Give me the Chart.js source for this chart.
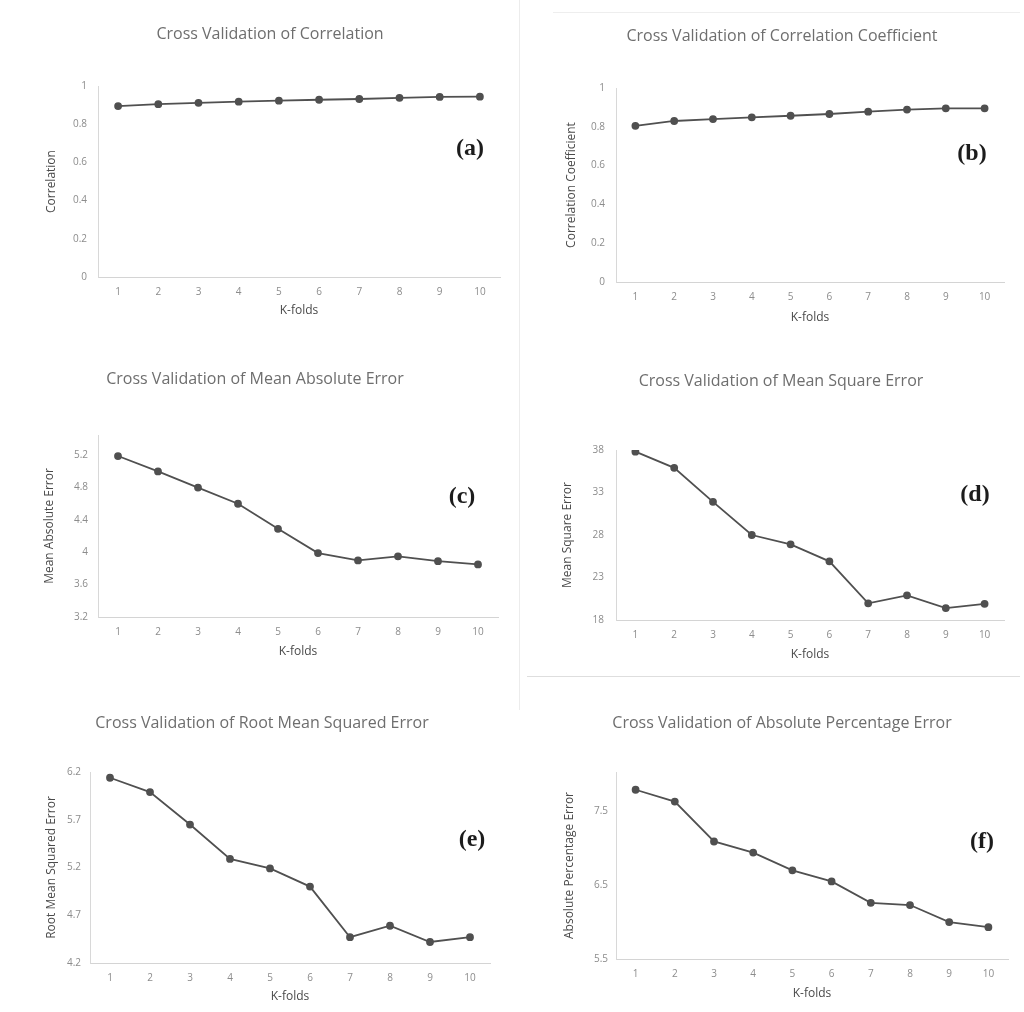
<!DOCTYPE html>
<html>
<head>
<meta charset="utf-8">
<script src="https://cdn.jsdelivr.net/npm/chart.js@4"></script>
<style>
  html, body { margin: 0; padding: 0; background: #ffffff; }
  body { width: 1024px; height: 1012px; position: relative; overflow: hidden; font-family: "Open Sans", sans-serif; }
  .panel { position: absolute; }
  .title { position: absolute; font-family: "Open Sans", sans-serif; font-size: 16px; color: #6e6e6e; white-space: nowrap; transform: translate(-50%, -50%); }
  .letter { position: absolute; font-family: "Liberation Serif", serif; font-weight: bold; font-size: 24px; color: #1c1c1c; white-space: nowrap; transform: translate(-50%, -50%); }
  .rule { position: absolute; background: #e6e6e6; }
</style>
</head>
<body>
<script>
// ---------------- data ----------------
const kFolds = ['1', '2', '3', '4', '5', '6', '7', '8', '9', '10'];

const correlation = [0.895, 0.905, 0.912, 0.918, 0.923, 0.928, 0.932, 0.938, 0.943, 0.944];
const correlationCoefficient = [0.805, 0.830, 0.840, 0.849, 0.857, 0.866, 0.878, 0.889, 0.895, 0.895];
const meanAbsoluteError = [5.19, 5.00, 4.80, 4.60, 4.29, 3.99, 3.90, 3.95, 3.89, 3.85];
const meanSquareError = [37.8, 35.9, 31.9, 28.0, 26.9, 24.9, 19.96, 20.9, 19.4, 19.9];
const rootMeanSquaredError = [6.14, 5.99, 5.65, 5.29, 5.19, 5.00, 4.47, 4.59, 4.42, 4.47];
const absolutePercentageError = [7.79, 7.63, 7.09, 6.94, 6.70, 6.55, 6.26, 6.23, 6.00, 5.93];

const correlationTicks = [0, 0.2, 0.4, 0.6, 0.8, 1];
const maeTicks = [3.2, 3.6, 4, 4.4, 4.8, 5.2];
const mseTicks = [18, 23, 28, 33, 38];
const rmseTicks = [4.2, 4.7, 5.2, 5.7, 6.2];
const apeTicks = [5.5, 6.5, 7.5];

const chartTitles = [
  'Cross Validation of Correlation',
  'Cross Validation of Correlation Coefficient',
  'Cross Validation of Mean Absolute Error',
  'Cross Validation of Mean Square Error',
  'Cross Validation of Root Mean Squared Error',
  'Cross Validation of Absolute Percentage Error'
];
const yAxisTitles = ['Correlation', 'Correlation Coefficient', 'Mean Absolute Error', 'Mean Square Error', 'Root Mean Squared Error', 'Absolute Percentage Error'];
const xAxisTitle = 'K-folds';
const panelLetters = ['(a)', '(b)', '(c)', '(d)', '(e)', '(f)'];

// ---------------- layout (styling only) ----------------
const seriesList = [correlation, correlationCoefficient, meanAbsoluteError, meanSquareError, rootMeanSquaredError, absolutePercentageError];
const tickList = [correlationTicks, correlationTicks, maeTicks, mseTicks, rmseTicks, apeTicks];
const ranges = [[0, 1], [0, 1], [3.2, 5.45], [18, 38], [4.2, 6.2], [5.5, 8.03]];

// canvas rect, plot rect, title/letter/axis-title placement
const layouts = [
  { c: [0, 0, 515, 340],   p: [98, 86, 500, 277],   t: [270, 33],  l: [470, 147], yt: 52,  xt: 311, tp: 11 },
  { c: [515, 0, 509, 340], p: [616, 88, 1004, 282], t: [782, 35],  l: [972, 152], yt: 572, xt: 318, tp: 11 },
  { c: [0, 340, 515, 340], p: [98, 435, 498, 617],  t: [255, 378], l: [462, 495], yt: 50,  xt: 652, tp: 10 },
  { c: [515, 340, 509, 340], p: [616, 450, 1004, 620], t: [781, 380], l: [975, 493], yt: 568, xt: 655, tp: 12 },
  { c: [0, 680, 515, 332], p: [90, 772, 490, 963],  t: [262, 722], l: [472, 838], yt: 52,  xt: 997, tp: 9 },
  { c: [515, 680, 509, 332], p: [616, 772, 1008, 959], t: [782, 722], l: [982, 840], yt: 570, xt: 994, tp: 8 }
];

const Y_W = 70;   // fixed width of y-axis box
const X_H = 44;   // fixed height of x-axis box
const AXIS_FONT = 12;
const TICK_FONT = 10;

function addDiv(cls, text, x, y) {
  const d = document.createElement('div');
  d.className = cls;
  d.textContent = text;
  d.style.left = x + 'px';
  d.style.top = y + 'px';
  document.body.appendChild(d);
  return d;
}
function addRule(x, y, w, h, color) {
  const d = document.createElement('div');
  d.className = 'rule';
  d.style.left = x + 'px'; d.style.top = y + 'px';
  d.style.width = w + 'px'; d.style.height = h + 'px';
  if (color) d.style.background = color;
  document.body.appendChild(d);
}

// faint panel frames
addRule(519, 0, 1, 710, '#ececec');
addRule(553, 12, 467, 1, '#eeeeee');
addRule(527, 676, 493, 1, '#dedede');

layouts.forEach((L, i) => {
  const [cx, cy, cw, ch] = L.c;
  const [pl, pt, pr, pb] = L.p;
  const wrap = document.createElement('div');
  wrap.className = 'panel';
  wrap.style.left = cx + 'px';
  wrap.style.top = cy + 'px';
  wrap.style.width = cw + 'px';
  wrap.style.height = ch + 'px';
  const canvas = document.createElement('canvas');
  wrap.appendChild(canvas);
  document.body.appendChild(wrap);

  const lineH = AXIS_FONT * 1.2;
  const scaleLeft = pl - Y_W;
  const yTitlePad = L.yt - scaleLeft - lineH / 2;
  const xScaleBottom = pb + X_H;
  const xTitlePad = xScaleBottom - L.xt - lineH / 2;
  const ticks = tickList[i];

  new Chart(canvas, {
    type: 'line',
    data: {
      labels: kFolds,
      datasets: [{
        data: seriesList[i],
        borderColor: '#505050',
        backgroundColor: '#505050',
        borderWidth: 1.8,
        pointRadius: 3,
        pointBackgroundColor: '#505050',
        pointBorderColor: '#505050',
        tension: 0,
        fill: false
      }]
    },
    options: {
      responsive: true,
      maintainAspectRatio: false,
      animation: false,
      devicePixelRatio: 1,
      layout: {
        padding: {
          left: scaleLeft - cx,
          top: pt - cy,
          right: cx + cw - pr,
          bottom: cy + ch - xScaleBottom
        }
      },
      plugins: { legend: { display: false }, title: { display: false }, tooltip: { enabled: false } },
      scales: {
        x: {
          type: 'category',
          offset: true,
          grid: { display: false, drawTicks: false },
          border: { display: true, color: '#d4d4d4', width: 1 },
          ticks: {
            autoSkip: false, maxRotation: 0, padding: 9,
            color: '#8c8c8c', font: { family: 'Open Sans', size: TICK_FONT }
          },
          title: {
            display: true, text: xAxisTitle, color: '#4a4a4a',
            font: { family: 'Open Sans', size: AXIS_FONT },
            padding: { top: 0, bottom: xTitlePad }
          },
          afterFit: (s) => { s.height = X_H; }
        },
        y: {
          type: 'linear',
          min: ranges[i][0],
          max: ranges[i][1],
          grid: { display: false, drawTicks: false },
          border: { display: true, color: '#d8d8d8', width: 1 },
          ticks: {
            padding: L.tp, color: '#8c8c8c',
            font: { family: 'Open Sans', size: TICK_FONT },
            callback: (v) => String(Math.round(v * 100) / 100)
          },
          afterBuildTicks: (s) => { s.ticks = ticks.map(v => ({ value: v })); },
          title: {
            display: true, text: yAxisTitles[i], color: '#4a4a4a',
            font: { family: 'Open Sans', size: AXIS_FONT },
            padding: { top: yTitlePad, bottom: 0 }
          },
          afterFit: (s) => { s.width = Y_W; }
        }
      }
    }
  });

  addDiv('title', chartTitles[i], L.t[0], L.t[1]);
  addDiv('letter', panelLetters[i], L.l[0], L.l[1]);
});
</script>
</body>
</html>
